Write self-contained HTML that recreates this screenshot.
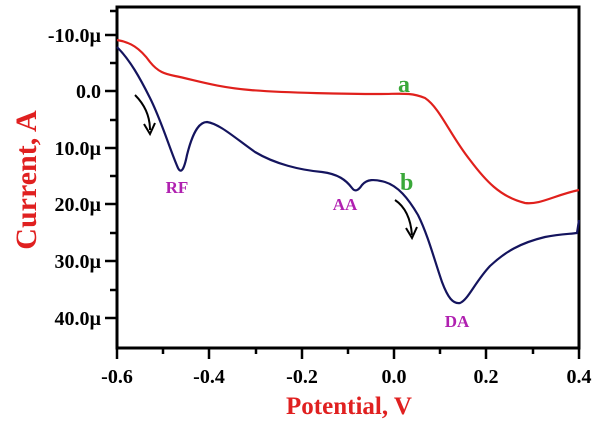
<!DOCTYPE html><html><head><style>body{margin:0;background:#fff}svg text{font-family:"Liberation Serif",serif;font-weight:bold}</style></head><body>
<svg width="600" height="423" xmlns="http://www.w3.org/2000/svg">
<rect x="117" y="7" width="462" height="341" fill="none" stroke="#000" stroke-width="3"/>
<g stroke="#000" stroke-width="2.5">
<line x1="105" y1="35" x2="117" y2="35"/><line x1="105" y1="91" x2="117" y2="91"/><line x1="105" y1="148" x2="117" y2="148"/><line x1="105" y1="204" x2="117" y2="204"/><line x1="105" y1="261" x2="117" y2="261"/><line x1="105" y1="318" x2="117" y2="318"/>
<line x1="110" y1="63" x2="117" y2="63"/><line x1="110" y1="120" x2="117" y2="120"/><line x1="110" y1="176" x2="117" y2="176"/><line x1="110" y1="233" x2="117" y2="233"/><line x1="110" y1="290" x2="117" y2="290"/><line x1="110" y1="11" x2="117" y2="11"/>
<line x1="117" y1="348" x2="117" y2="359"/><line x1="209" y1="348" x2="209" y2="359"/><line x1="302" y1="348" x2="302" y2="359"/><line x1="394" y1="348" x2="394" y2="359"/><line x1="486" y1="348" x2="486" y2="359"/><line x1="579" y1="348" x2="579" y2="359"/>
<line x1="163" y1="348" x2="163" y2="354"/><line x1="256" y1="348" x2="256" y2="354"/><line x1="348" y1="348" x2="348" y2="354"/><line x1="440" y1="348" x2="440" y2="354"/><line x1="533" y1="348" x2="533" y2="354"/>
</g>
<g font-size="20" text-anchor="end" fill="#000">
<text x="101" y="42">-10.0µ</text><text x="101" y="98">0.0</text><text x="101" y="155">10.0µ</text><text x="101" y="211">20.0µ</text><text x="101" y="268">30.0µ</text><text x="101" y="325">40.0µ</text></g>
<g font-size="20" text-anchor="middle" fill="#000">
<text x="117" y="383">-0.6</text><text x="209" y="383">-0.4</text><text x="302" y="383">-0.2</text><text x="394" y="383">0.0</text><text x="486" y="383">0.2</text><text x="579" y="383">0.4</text></g>
<text x="349" y="414" font-size="25" fill="#e02020" text-anchor="middle">Potential, V</text>
<text transform="translate(36,180) rotate(-90)" font-size="30" fill="#e02020" text-anchor="middle">Current, A</text>
<path d="M117,40 C130,42 140,48 150,62 C158,72 165,74 175,76 C195,80 215,87 250,90 S350,94 380,94 C400,94 410,92 425,98 C440,108 450,135 470,160 C485,180 500,197 525,203 C540,205 555,195 579,190" fill="none" stroke="#e0201c" stroke-width="2.2"/>
<path d="M117,47 C130,60 140,78 150,98 C162,122 170,150 178,168 C181,174 184,170 187,155 C192,135 198,122 207,122 C220,124 235,138 255,152 C275,164 300,170 322,172 C338,174 346,180 352,188 C355,192 358,191 362,185 C367,179 374,179 385,182 C398,186 408,198 418,215 C428,235 435,262 442,282 C448,298 453,304 460,303 C468,300 475,282 490,266 C505,252 520,243 545,237 C560,234 570,234 577,233 L579,220" fill="none" stroke="#14145e" stroke-width="2.2"/>
<path d="M135,95 Q150,110 150,130" fill="none" stroke="#000" stroke-width="2"/><path d="M144,124 L150,134 L155,123" fill="none" stroke="#000" stroke-width="2"/>
<path d="M395,200 Q410,210 412,235" fill="none" stroke="#000" stroke-width="2"/><path d="M406,228 L412,238 L417,227" fill="none" stroke="#000" stroke-width="2"/>
<g font-size="17" fill="#b020b0" text-anchor="middle"><text x="177" y="193">RF</text><text x="345" y="210">AA</text><text x="457" y="327">DA</text></g>
<g font-size="24" fill="#3aa83a"><text x="398" y="92">a</text><text x="400" y="190">b</text></g>
</svg></body></html>
